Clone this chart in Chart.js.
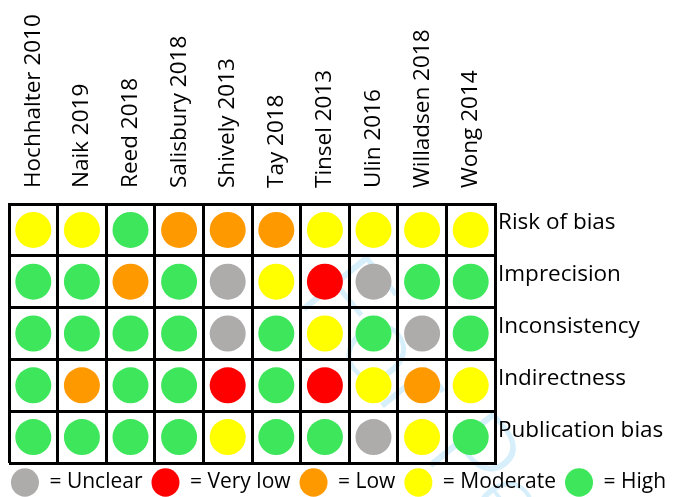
<!DOCTYPE html>
<html>
<head>
<meta charset="utf-8">
<script src="https://cdn.jsdelivr.net/npm/chart.js@4.4.1/dist/chart.umd.min.js"></script>
<style>
  html, body { margin: 0; padding: 0; background: #ffffff; }
  canvas { display: block; }
</style>
</head>
<body>
<canvas id="grade" width="677" height="497"></canvas>
<script>
// Studies (columns) and GRADE domains (rows)
const studies = [
  'Hochhalter 2010', 'Naik 2019', 'Reed 2018', 'Salisbury 2018', 'Shively 2013',
  'Tay 2018', 'Tinsel 2013', 'Ulin 2016', 'Willadsen 2018', 'Wong 2014'
];
const domains = ['Risk of bias', 'Imprecision', 'Inconsistency', 'Indirectness', 'Publication bias'];

// Certainty levels shown in the key
const levelCodes = ['U', 'V', 'L', 'M', 'H'];
const levelLabels = ['= Unclear', '= Very low', '= Low', '= Moderate', '= High'];
const levelColors = ['#AEABAB', '#FF0000', '#FF9900', '#FFFF00', '#3DE65B'];

// Rating of each study per domain (U unclear, V very low, L low, M moderate, H high)
const riskOfBias      = ['M', 'M', 'H', 'L', 'L', 'L', 'M', 'M', 'M', 'M'];
const imprecision     = ['H', 'H', 'L', 'H', 'U', 'M', 'V', 'U', 'H', 'H'];
const inconsistency   = ['H', 'H', 'H', 'H', 'U', 'H', 'M', 'H', 'U', 'H'];
const indirectness    = ['H', 'L', 'H', 'H', 'V', 'H', 'V', 'M', 'L', 'M'];
const publicationBias = ['H', 'H', 'H', 'H', 'M', 'H', 'H', 'U', 'M', 'H'];

const ratingRows = [riskOfBias, imprecision, inconsistency, indirectness, publicationBias];

// One scatter dataset per level, each point placed on (study, domain)
const datasets = levelCodes.map((code, li) => {
  const points = [];
  ratingRows.forEach((row, ri) => {
    row.forEach((r, si) => {
      if (r === code) points.push({ x: studies[si], y: domains[ri] });
    });
  });
  return {
    label: levelLabels[li],
    data: points,
    backgroundColor: levelColors[li],
    borderWidth: 0,
    pointStyle: 'circle',
    pointRadius: 18,
    pointHoverRadius: 18
  };
});

const FONT = '"Open Sans"';

// Faint diagonal review stamp behind the grid
const reviewStamp = {
  id: 'reviewStamp',
  beforeDraw(chart) {
    const c = chart.ctx;
    c.save();
    c.translate(294, 297);
    c.rotate(51 * Math.PI / 180);
    c.font = '300 118px Lato';
    c.fillStyle = '#d6effb';
    c.textBaseline = 'alphabetic';
    c.fillText('For Peer Review', 0, 0);
    c.restore();
  }
};

const gridStyle = { offset: true, color: '#000000', lineWidth: 3, drawTicks: false };
const borderStyle = { color: '#000000', width: 3 };

new Chart(document.getElementById('grade'), {
  type: 'scatter',
  data: { datasets },
  plugins: [reviewStamp],
  options: {
    responsive: false,
    animation: false,
    events: [],
    layout: { autoPadding: false, padding: { top: 0, right: 0, left: 0, bottom: -6 } },
    scales: {
      x: {
        type: 'category',
        labels: studies,
        position: 'top',
        offset: true,
        grid: gridStyle,
        border: borderStyle,
        ticks: {
          autoSkip: false,
          minRotation: 90,
          maxRotation: 90,
          padding: 16,
          labelOffset: 27,
          color: '#000000',
          font: { family: FONT, size: 22.5 }
        },
        afterFit(scale) {
          scale.height = 204;
          scale.paddingLeft = 0;
          scale.paddingRight = 0;
        }
      },
      y: {
        type: 'category',
        labels: domains,
        position: 'right',
        offset: true,
        grid: gridStyle,
        border: borderStyle,
        ticks: {
          padding: 3,
          labelOffset: -7,
          color: '#000000',
          font: { family: FONT, size: 22.5 }
        },
        afterFit(scale) { scale.width = 182; }
      },
      edge: {
        type: 'linear',
        position: 'left',
        grid: { display: false },
        border: { display: false },
        ticks: { display: false },
        afterFit(scale) { scale.width = 9; }
      }
    },
    plugins: {
      tooltip: { enabled: false },
      legend: {
        position: 'bottom',
        labels: {
          usePointStyle: true,
          pointStyleWidth: 28,
          boxHeight: 20,
          padding: 9,
          color: '#000000',
          font: { family: FONT, size: 21 }
        }
      }
    }
  }
});
</script>
</body>
</html>
